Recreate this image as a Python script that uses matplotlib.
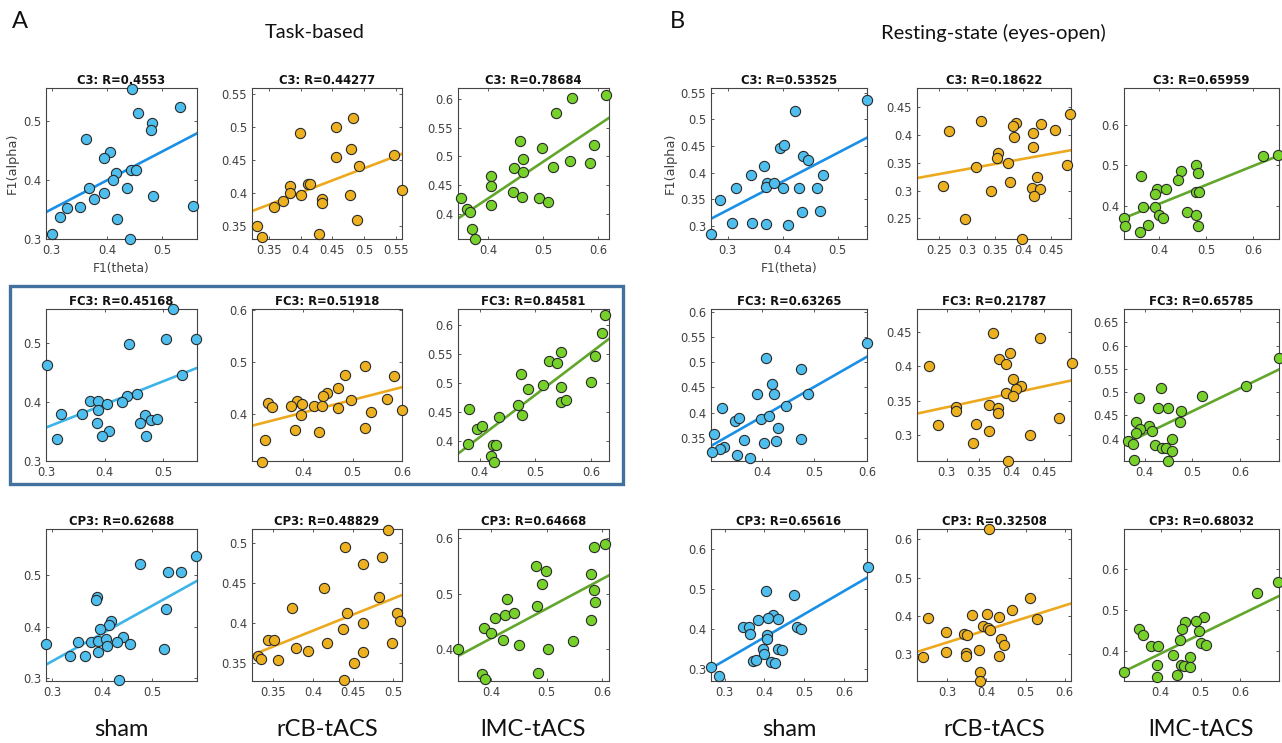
import matplotlib
matplotlib.use('Agg')
import matplotlib.pyplot as plt
import numpy as np
from matplotlib.patches import Rectangle

# ---------------- data (theta = x, alpha = y) ----------------
# Task-based
TASK_C3_SHAM_X = [0.445, 0.532, 0.456, 0.482, 0.480, 0.363, 0.405, 0.395, 0.443, 0.453, 0.416, 0.411,
                  0.367, 0.436, 0.395, 0.484, 0.376, 0.351, 0.328, 0.556, 0.315, 0.418, 0.301, 0.441]
TASK_C3_SHAM_Y = [0.555, 0.524, 0.515, 0.497, 0.486, 0.470, 0.448, 0.438, 0.418, 0.418, 0.412, 0.400,
                  0.386, 0.387, 0.378, 0.373, 0.368, 0.355, 0.352, 0.356, 0.337, 0.334, 0.308, 0.300]
TASK_C3_RCB_X = [0.483, 0.456, 0.399, 0.479, 0.455, 0.547, 0.492, 0.411, 0.415, 0.383, 0.383, 0.401,
                 0.478, 0.559, 0.373, 0.434, 0.433, 0.358, 0.488, 0.332, 0.340, 0.429]
TASK_C3_RCB_Y = [0.514, 0.500, 0.490, 0.466, 0.454, 0.457, 0.441, 0.414, 0.413, 0.410, 0.400, 0.397,
                 0.397, 0.405, 0.388, 0.390, 0.384, 0.378, 0.359, 0.350, 0.333, 0.338]
TASK_C3_LMC_X = [0.614, 0.552, 0.523, 0.458, 0.497, 0.592, 0.463, 0.549, 0.584, 0.518, 0.447, 0.464,
                 0.406, 0.406, 0.445, 0.461, 0.493, 0.509, 0.352, 0.362, 0.367, 0.406, 0.371, 0.376]
TASK_C3_LMC_Y = [0.606, 0.601, 0.575, 0.527, 0.515, 0.520, 0.495, 0.492, 0.489, 0.482, 0.480, 0.473,
                 0.465, 0.449, 0.438, 0.430, 0.427, 0.420, 0.428, 0.409, 0.403, 0.416, 0.374, 0.356]

TASK_FC3_SHAM_X = [0.517, 0.442, 0.505, 0.556, 0.301, 0.532, 0.456, 0.439, 0.376, 0.388, 0.430, 0.404,
                   0.389, 0.362, 0.325, 0.470, 0.480, 0.490, 0.460, 0.387, 0.408, 0.395, 0.471, 0.319]
TASK_FC3_SHAM_Y = [0.557, 0.497, 0.507, 0.507, 0.463, 0.445, 0.414, 0.410, 0.402, 0.402, 0.400, 0.396,
                   0.387, 0.380, 0.380, 0.378, 0.370, 0.371, 0.365, 0.365, 0.350, 0.343, 0.343, 0.337]
TASK_FC3_RCB_X = [0.526, 0.485, 0.584, 0.471, 0.449, 0.439, 0.329, 0.388, 0.337, 0.375, 0.398, 0.422,
                  0.438, 0.497, 0.569, 0.471, 0.395, 0.537, 0.600, 0.383, 0.431, 0.525, 0.322, 0.316]
TASK_FC3_RCB_Y = [0.493, 0.474, 0.472, 0.450, 0.440, 0.435, 0.421, 0.424, 0.413, 0.415, 0.418, 0.415,
                  0.415, 0.426, 0.429, 0.412, 0.397, 0.403, 0.407, 0.369, 0.364, 0.373, 0.350, 0.308]
TASK_FC3_LMC_X = [0.625, 0.619, 0.607, 0.546, 0.524, 0.539, 0.474, 0.600, 0.514, 0.486, 0.546, 0.545,
                  0.555, 0.469, 0.476, 0.435, 0.380, 0.395, 0.404, 0.379, 0.423, 0.429, 0.421, 0.426]
TASK_FC3_LMC_Y = [0.617, 0.585, 0.546, 0.553, 0.537, 0.534, 0.515, 0.502, 0.496, 0.489, 0.493, 0.467,
                  0.471, 0.461, 0.444, 0.440, 0.454, 0.420, 0.426, 0.394, 0.393, 0.392, 0.373, 0.364]

TASK_CP3_SHAM_X = [0.588, 0.476, 0.532, 0.557, 0.390, 0.387, 0.528, 0.418, 0.414, 0.395, 0.441, 0.351,
                   0.377, 0.391, 0.408, 0.429, 0.455, 0.288, 0.410, 0.336, 0.365, 0.392, 0.523, 0.434]
TASK_CP3_SHAM_Y = [0.537, 0.522, 0.505, 0.505, 0.458, 0.451, 0.435, 0.412, 0.404, 0.395, 0.381, 0.370,
                   0.370, 0.373, 0.377, 0.371, 0.366, 0.366, 0.363, 0.344, 0.344, 0.352, 0.357, 0.297]
TASK_CP3_RCB_X = [0.493, 0.440, 0.486, 0.462, 0.414, 0.482, 0.374, 0.442, 0.505, 0.508, 0.463, 0.438,
                  0.344, 0.352, 0.418, 0.498, 0.379, 0.394, 0.462, 0.331, 0.335, 0.356, 0.451, 0.439]
TASK_CP3_RCB_Y = [0.517, 0.496, 0.483, 0.474, 0.444, 0.433, 0.419, 0.413, 0.412, 0.402, 0.400, 0.392,
                  0.379, 0.379, 0.375, 0.375, 0.369, 0.365, 0.363, 0.358, 0.355, 0.354, 0.350, 0.328]
TASK_CP3_LMC_X = [0.605, 0.585, 0.481, 0.499, 0.579, 0.492, 0.585, 0.586, 0.428, 0.483, 0.425, 0.441,
                  0.406, 0.580, 0.386, 0.400, 0.421, 0.548, 0.449, 0.340, 0.502, 0.485, 0.384, 0.388]
TASK_CP3_LMC_Y = [0.589, 0.583, 0.550, 0.541, 0.535, 0.517, 0.506, 0.485, 0.491, 0.477, 0.461, 0.465,
                  0.456, 0.453, 0.438, 0.430, 0.416, 0.414, 0.408, 0.400, 0.401, 0.358, 0.356, 0.346]

# Resting-state (eyes-open)
REST_C3_SHAM_X = [0.553, 0.422, 0.396, 0.403, 0.437, 0.446, 0.366, 0.343, 0.474, 0.371, 0.370, 0.384,
                  0.401, 0.316, 0.429, 0.463, 0.287, 0.435, 0.468, 0.309, 0.345, 0.370, 0.410, 0.270]
REST_C3_SHAM_Y = [0.536, 0.515, 0.447, 0.452, 0.432, 0.423, 0.412, 0.395, 0.395, 0.380, 0.372, 0.380,
                  0.370, 0.371, 0.371, 0.370, 0.348, 0.326, 0.328, 0.305, 0.306, 0.303, 0.302, 0.285]
REST_C3_RCB_X = [0.267, 0.325, 0.387, 0.381, 0.383, 0.354, 0.352, 0.315, 0.373, 0.376, 0.257, 0.342,
                 0.296, 0.398, 0.483, 0.478, 0.457, 0.432, 0.417, 0.417, 0.425, 0.415, 0.429, 0.419]
REST_C3_RCB_Y = [0.407, 0.425, 0.422, 0.416, 0.396, 0.368, 0.359, 0.343, 0.350, 0.316, 0.308, 0.300,
                 0.249, 0.213, 0.438, 0.345, 0.409, 0.419, 0.404, 0.379, 0.325, 0.304, 0.303, 0.291]
REST_C3_LMC_X = [0.652, 0.622, 0.479, 0.447, 0.441, 0.484, 0.363, 0.396, 0.392, 0.415, 0.479, 0.486,
                 0.367, 0.392, 0.400, 0.409, 0.460, 0.478, 0.484, 0.327, 0.328, 0.359, 0.376]
REST_C3_LMC_Y = [0.526, 0.523, 0.502, 0.487, 0.464, 0.481, 0.473, 0.442, 0.428, 0.441, 0.434, 0.434,
                 0.398, 0.396, 0.377, 0.371, 0.385, 0.377, 0.350, 0.369, 0.349, 0.335, 0.353]

REST_FC3_SHAM_X = [0.600, 0.407, 0.474, 0.419, 0.391, 0.422, 0.487, 0.446, 0.323, 0.348, 0.357, 0.399,
                   0.413, 0.431, 0.308, 0.365, 0.404, 0.427, 0.474, 0.327, 0.320, 0.304, 0.353, 0.378]
REST_FC3_SHAM_Y = [0.537, 0.507, 0.487, 0.456, 0.437, 0.436, 0.437, 0.413, 0.409, 0.383, 0.389, 0.388,
                   0.394, 0.370, 0.357, 0.345, 0.340, 0.344, 0.347, 0.332, 0.328, 0.321, 0.316, 0.310]
REST_FC3_RCB_X = [0.272, 0.372, 0.444, 0.493, 0.398, 0.381, 0.392, 0.403, 0.415, 0.407, 0.392, 0.402,
                  0.315, 0.315, 0.366, 0.379, 0.379, 0.345, 0.286, 0.365, 0.473, 0.429, 0.341, 0.395]
REST_FC3_RCB_Y = [0.400, 0.448, 0.441, 0.405, 0.420, 0.410, 0.404, 0.381, 0.372, 0.367, 0.362, 0.357,
                  0.341, 0.335, 0.344, 0.339, 0.332, 0.317, 0.315, 0.307, 0.325, 0.300, 0.289, 0.263]
REST_FC3_LMC_X = [0.680, 0.613, 0.520, 0.435, 0.388, 0.429, 0.450, 0.477, 0.475, 0.383, 0.409, 0.390,
                  0.416, 0.383, 0.366, 0.376, 0.422, 0.437, 0.444, 0.457, 0.458, 0.377, 0.448]
REST_FC3_LMC_Y = [0.573, 0.514, 0.492, 0.510, 0.487, 0.465, 0.466, 0.460, 0.436, 0.436, 0.428, 0.421,
                  0.416, 0.413, 0.395, 0.388, 0.386, 0.381, 0.381, 0.399, 0.374, 0.355, 0.351]

REST_CP3_SHAM_X = [0.659, 0.403, 0.475, 0.422, 0.384, 0.409, 0.433, 0.347, 0.360, 0.482, 0.491, 0.365,
                   0.407, 0.406, 0.396, 0.400, 0.435, 0.444, 0.371, 0.378, 0.417, 0.427, 0.267, 0.286]
REST_CP3_SHAM_Y = [0.553, 0.494, 0.484, 0.435, 0.422, 0.427, 0.423, 0.404, 0.405, 0.405, 0.399, 0.386,
                   0.385, 0.374, 0.348, 0.337, 0.348, 0.347, 0.318, 0.322, 0.317, 0.314, 0.304, 0.281]
REST_CP3_RCB_X = [0.407, 0.511, 0.466, 0.530, 0.364, 0.402, 0.433, 0.252, 0.297, 0.391, 0.403, 0.409,
                  0.343, 0.351, 0.437, 0.446, 0.380, 0.297, 0.348, 0.348, 0.431, 0.239, 0.384, 0.384]
REST_CP3_RCB_Y = [0.627, 0.447, 0.414, 0.391, 0.402, 0.405, 0.396, 0.393, 0.358, 0.374, 0.369, 0.362,
                  0.352, 0.349, 0.340, 0.324, 0.311, 0.304, 0.302, 0.294, 0.294, 0.293, 0.253, 0.229]
REST_CP3_LMC_X = [0.694, 0.643, 0.508, 0.488, 0.462, 0.495, 0.454, 0.345, 0.355, 0.500, 0.515, 0.449,
                  0.376, 0.393, 0.432, 0.474, 0.390, 0.452, 0.459, 0.474, 0.309, 0.390, 0.442]
REST_CP3_LMC_Y = [0.568, 0.541, 0.483, 0.473, 0.470, 0.450, 0.454, 0.454, 0.439, 0.419, 0.416, 0.426,
                  0.412, 0.412, 0.390, 0.385, 0.365, 0.366, 0.364, 0.360, 0.349, 0.337, 0.341]

CHANNELS = ["C3", "FC3", "CP3"]
GROUPS = ["sham", "rCB-tACS", "lMC-tACS"]
R_TASK = [["0.4553", "0.44277", "0.78684"],
          ["0.45168", "0.51918", "0.84581"],
          ["0.62688", "0.48829", "0.64668"]]
R_REST = [["0.53525", "0.18622", "0.65959"],
          ["0.63265", "0.21787", "0.65785"],
          ["0.65616", "0.32508", "0.68032"]]

TASK_DATA = [[(TASK_C3_SHAM_X, TASK_C3_SHAM_Y), (TASK_C3_RCB_X, TASK_C3_RCB_Y), (TASK_C3_LMC_X, TASK_C3_LMC_Y)],
             [(TASK_FC3_SHAM_X, TASK_FC3_SHAM_Y), (TASK_FC3_RCB_X, TASK_FC3_RCB_Y), (TASK_FC3_LMC_X, TASK_FC3_LMC_Y)],
             [(TASK_CP3_SHAM_X, TASK_CP3_SHAM_Y), (TASK_CP3_RCB_X, TASK_CP3_RCB_Y), (TASK_CP3_LMC_X, TASK_CP3_LMC_Y)]]
REST_DATA = [[(REST_C3_SHAM_X, REST_C3_SHAM_Y), (REST_C3_RCB_X, REST_C3_RCB_Y), (REST_C3_LMC_X, REST_C3_LMC_Y)],
             [(REST_FC3_SHAM_X, REST_FC3_SHAM_Y), (REST_FC3_RCB_X, REST_FC3_RCB_Y), (REST_FC3_LMC_X, REST_FC3_LMC_Y)],
             [(REST_CP3_SHAM_X, REST_CP3_SHAM_Y), (REST_CP3_RCB_X, REST_CP3_RCB_Y), (REST_CP3_LMC_X, REST_CP3_LMC_Y)]]

# axis ranges (xmin, xmax, ymin, ymax) and ticks per panel
TASK_LIMS = [[(0.29, 0.563, 0.300, 0.557), (0.324, 0.559, 0.330, 0.559), (0.346, 0.619, 0.356, 0.619)],
             [(0.300, 0.558, 0.300, 0.557), (0.296, 0.600, 0.309, 0.602), (0.361, 0.632, 0.365, 0.627)],
             [(0.288, 0.589, 0.295, 0.589), (0.324, 0.511, 0.327, 0.518), (0.340, 0.612, 0.343, 0.616)]]
REST_LIMS = [[(0.270, 0.553, 0.275, 0.559), (0.210, 0.485, 0.213, 0.484), (0.326, 0.655, 0.318, 0.691)],
             [(0.303, 0.600, 0.304, 0.605), (0.254, 0.492, 0.263, 0.483), (0.357, 0.681, 0.352, 0.679)],
             [(0.266, 0.657, 0.269, 0.649), (0.223, 0.616, 0.229, 0.627), (0.308, 0.697, 0.327, 0.698)]]
TASK_XTICKS = [[[0.3, 0.4, 0.5], [0.35, 0.4, 0.45, 0.5, 0.55], [0.4, 0.5, 0.6]],
               [[0.3, 0.4, 0.5], [0.4, 0.5, 0.6], [0.4, 0.5, 0.6]],
               [[0.3, 0.4, 0.5], [0.35, 0.4, 0.45, 0.5], [0.4, 0.5, 0.6]]]
TASK_YTICKS = [[[0.3, 0.4, 0.5], [0.35, 0.4, 0.45, 0.5, 0.55], [0.4, 0.45, 0.5, 0.55, 0.6]],
               [[0.3, 0.4, 0.5], [0.4, 0.5, 0.6], [0.4, 0.45, 0.5, 0.55, 0.6]],
               [[0.3, 0.4, 0.5], [0.35, 0.4, 0.45, 0.5], [0.4, 0.5, 0.6]]]
REST_XTICKS = [[[0.3, 0.4, 0.5], [0.25, 0.3, 0.35, 0.4, 0.45], [0.4, 0.5, 0.6]],
               [[0.4, 0.5, 0.6], [0.3, 0.35, 0.4, 0.45], [0.4, 0.5, 0.6]],
               [[0.3, 0.4, 0.5, 0.6], [0.3, 0.4, 0.5, 0.6], [0.4, 0.5, 0.6]]]
REST_YTICKS = [[[0.3, 0.35, 0.4, 0.45, 0.5, 0.55], [0.25, 0.3, 0.35, 0.4, 0.45], [0.4, 0.5, 0.6]],
               [[0.35, 0.4, 0.45, 0.5, 0.55, 0.6], [0.3, 0.35, 0.4, 0.45], [0.4, 0.45, 0.5, 0.55, 0.6, 0.65]],
               [[0.3, 0.4, 0.5, 0.6], [0.3, 0.4, 0.5, 0.6], [0.4, 0.5, 0.6]]]

# ---------------- styling / layout ----------------
W, H = 1282, 743
fig = plt.figure(figsize=(W / 100, H / 100), dpi=100)
fig.patch.set_facecolor('white')

FACE = ['#4DBEEE', '#EDB120', '#77D12B']
LINE_MAIN = ['#1A8FE6', '#EDA91E', '#62A62C']
LINE_LIGHT_SHAM = '#3DB4E8'
TICKFONT = 'DejaVu Sans'

LEFT_COLS = [(46, 197), (252, 402), (458, 609)]
RIGHT_COLS = [(711, 867), (917, 1071), (1124, 1279)]
ROWS = [(88, 239), (309, 461), (529, 681)]


def fmt(v):
    return ('%.2f' % v).rstrip('0')


def panel(x0, x1, y0, y1, xy, lims, xt, yt, title, g, line_color):
    ax = fig.add_axes([x0 / W, 1 - y1 / H, (x1 - x0) / W, (y1 - y0) / H])
    x = np.asarray(xy[0])
    y = np.asarray(xy[1])
    xmin, xmax, ymin, ymax = lims
    coef = np.polyfit(x, y, 1)
    xl = np.array([xmin, xmax])
    ax.plot(xl, np.polyval(coef, xl), color=line_color, lw=1.9, zorder=2)
    ax.scatter(x, y, s=54, facecolor=FACE[g], edgecolor='#2b2b2b', linewidths=0.8,
               zorder=3, clip_on=False)
    ax.set_xlim(xmin, xmax)
    ax.set_ylim(ymin, ymax)
    ax.set_xticks(xt)
    ax.set_yticks(yt)
    ax.set_xticklabels([fmt(v) for v in xt])
    ax.set_yticklabels([fmt(v) for v in yt])
    ax.tick_params(direction='in', length=2.5, width=0.6, top=True, right=True,
                   labelsize=8.3, colors='#404040', pad=3.5)
    for lab in ax.get_xticklabels() + ax.get_yticklabels():
        lab.set_family(TICKFONT)
    for sp in ax.spines.values():
        sp.set_color('#444444')
        sp.set_linewidth(0.8)
    ax.set_title(title, fontsize=8.4, fontweight='bold', family=TICKFONT, pad=3, color='#111111')
    return ax


for side, (cols, data, lims, xts, yts, rs) in enumerate([
        (LEFT_COLS, TASK_DATA, TASK_LIMS, TASK_XTICKS, TASK_YTICKS, R_TASK),
        (RIGHT_COLS, REST_DATA, REST_LIMS, REST_XTICKS, REST_YTICKS, R_REST)]):
    for r in range(3):
        for c in range(3):
            lc = LINE_MAIN[c]
            if side == 0 and c == 0 and r > 0:
                lc = LINE_LIGHT_SHAM
            ax = panel(cols[c][0], cols[c][1], ROWS[r][0], ROWS[r][1], data[r][c], lims[r][c],
                       xts[r][c], yts[r][c], f"{CHANNELS[r]}: R={rs[r][c]}", c, lc)
            if r == 0 and c == 0:
                ax.set_xlabel('F1(theta)', fontsize=8.8, family=TICKFONT, color='#404040', labelpad=4)
                ax.set_ylabel('F1(alpha)', fontsize=9.3, family=TICKFONT, color='#404040', labelpad=3)

# highlight box around task FC3 row
fig.add_artist(Rectangle((10 / W, 1 - 484 / H), (623 - 10) / W, (484 - 286) / H,
                         transform=fig.transFigure, fill=False, edgecolor='#41719C', lw=2.4))

BIG = 'Lato'
fig.text(20 / W, 1 - 22 / H, 'A', fontsize=17, family=BIG, ha='center', va='center', color='#111111')
fig.text(677 / W, 1 - 22 / H, 'B', fontsize=17, family=BIG, ha='center', va='center', color='#111111')
fig.text(315 / W, 1 - 33 / H, 'Task-based', fontsize=14.5, family=BIG, ha='center', va='center', color='#111111')
fig.text(993 / W, 1 - 33 / H, 'Resting-state (eyes-open)', fontsize=14.5, family=BIG, ha='center',
         va='center', color='#111111')
for cols in (LEFT_COLS, RIGHT_COLS):
    for c in range(3):
        cx = (cols[c][0] + cols[c][1]) / 2
        fig.text(cx / W, 1 - 730 / H, GROUPS[c], fontsize=17, family=BIG, ha='center',
                 va='center', color='#111111')

fig.savefig('out.png', dpi=100, facecolor='white')
